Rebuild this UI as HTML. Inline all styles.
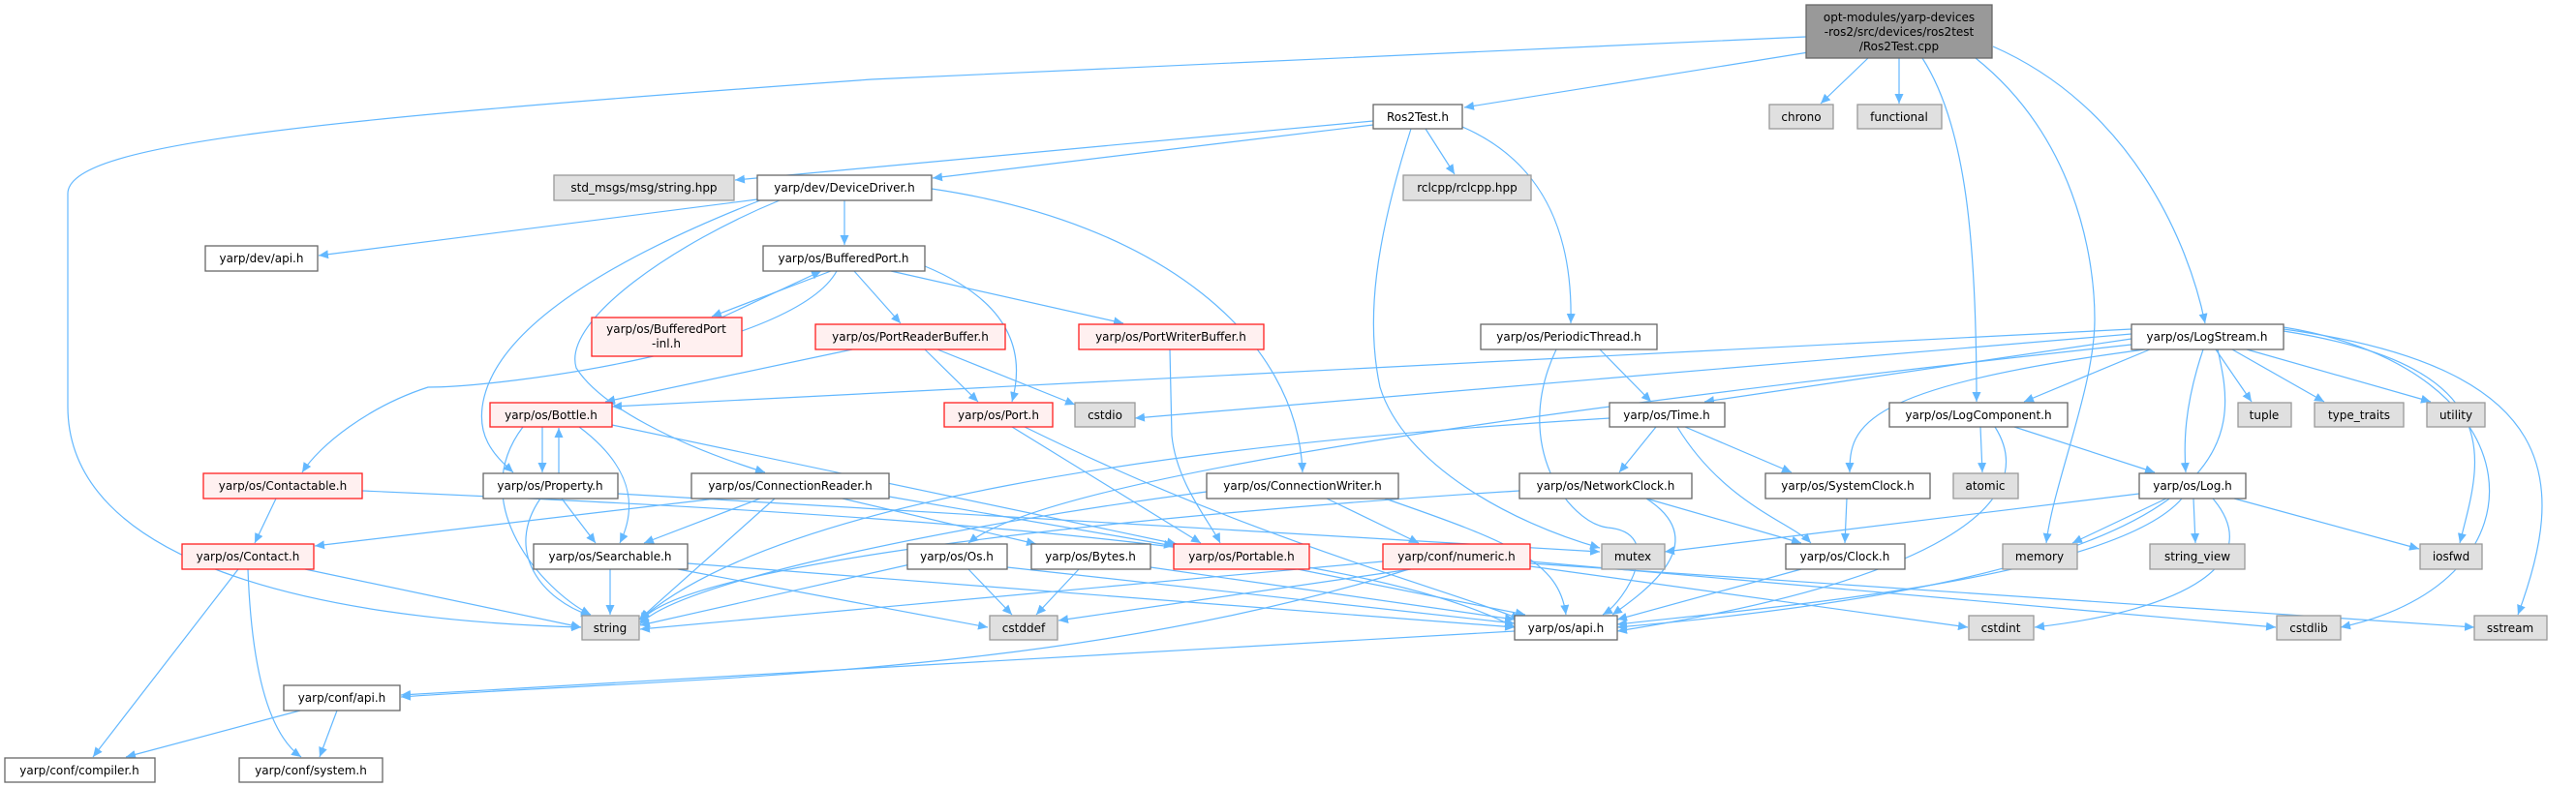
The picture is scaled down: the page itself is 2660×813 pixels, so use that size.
<!DOCTYPE html>
<html><head><meta charset="utf-8"><style>
html,body{margin:0;padding:0;background:#fff;}
svg{display:block;}
text{font-family:"DejaVu Sans","Liberation Sans",sans-serif;font-size:12px;fill:#000;}
.e{fill:none;stroke:#63b8ff;stroke-width:1.2;}
</style></head><body>
<svg width="2660" height="813" viewBox="0 0 2660 813" xmlns="http://www.w3.org/2000/svg">
<defs><marker id="a" markerUnits="userSpaceOnUse" markerWidth="11" markerHeight="9" refX="10" refY="4.5" orient="auto"><path d="M0,0 L10,4.5 L0,9 z" fill="#63b8ff"/></marker></defs>
<g class="e" marker-end="url(#a)">
<path d="M1865,38 L900,82 C300,125 70,150 70,200 L70,420 C70,580 320,640 600,648"/>
<path d="M1880,52 L1512,111"/>
<path d="M1929,60 L1880,107"/>
<path d="M1961,60 L1961,107"/>
<path d="M1985,60 C2030,130 2041,250 2041,415"/>
<path d="M2040,60 C2140,140 2163,260 2163,330 C2163,400 2120,500 2113,561"/>
<path d="M2058,48 C2200,110 2260,250 2277,334"/>
<path d="M1418,125 L759,186"/>
<path d="M1418,129 L963,184"/>
<path d="M1472,133 L1502,180"/>
<path d="M1510,131 C1600,170 1624,250 1622,334"/>
<path d="M1457,133 C1420,250 1410,330 1425,400 C1450,480 1560,540 1652,566"/>
<path d="M782,206 L329,264"/>
<path d="M872,207 L872,253"/>
<path d="M962,195 C1200,230 1340,350 1345,488"/>
<path d="M785,207 C650,260 520,330 500,410 C490,450 510,470 530,488"/>
<path d="M805,207 C700,250 580,330 595,380 C620,420 700,460 790,488"/>
<path d="M864,280 C820,360 520,400 442,400 C380,420 330,460 312,488"/>
<path d="M858,280 L735,327"/>
<path d="M745,328 L848,280"/>
<path d="M882,280 L930,334"/>
<path d="M920,280 L1160,334"/>
<path d="M955,275 C1040,310 1060,360 1045,415"/>
<path d="M955,361 L1010,415"/>
<path d="M968,361 L1110,418"/>
<path d="M880,361 L625,415"/>
<path d="M1208,361 L1210,450 C1215,500 1250,540 1260,561"/>
<path d="M1045,441 L1240,561"/>
<path d="M1058,441 C1300,560 1500,610 1570,640"/>
<path d="M560,441 L560,488"/>
<path d="M577,489 L577,442"/>
<path d="M598,441 C650,480 660,520 640,561"/>
<path d="M540,441 C480,520 560,610 610,635"/>
<path d="M632,439 L1215,562"/>
<path d="M580,515 L615,561"/>
<path d="M558,515 C520,570 560,620 610,636"/>
<path d="M638,510 L1652,570"/>
<path d="M285,515 L263,561"/>
<path d="M374,507 C900,530 1400,560 1564,648"/>
<path d="M740,515 L325,564"/>
<path d="M785,515 L665,561"/>
<path d="M800,515 L660,640"/>
<path d="M870,515 L1070,562"/>
<path d="M918,513 L1212,564"/>
<path d="M315,588 L600,648"/>
<path d="M246,588 L96,782"/>
<path d="M256,588 C260,700 280,760 311,782"/>
<path d="M630,588 L630,635"/>
<path d="M710,582 L1564,648"/>
<path d="M700,588 L1020,648"/>
<path d="M1564,652 L414,718"/>
<path d="M310,734 L130,782"/>
<path d="M348,734 L330,782"/>
<path d="M1455,588 C1100,700 700,700 414,720"/>
<path d="M1457,588 L1093,641"/>
<path d="M1580,585 L2032,648"/>
<path d="M1428,580 L661,650"/>
<path d="M1580,582 L2555,648"/>
<path d="M1580,580 L2350,648"/>
<path d="M940,583 L661,646"/>
<path d="M1000,588 L1045,635"/>
<path d="M1040,586 L1564,644"/>
<path d="M1114,588 L1070,635"/>
<path d="M1188,586 L1564,640"/>
<path d="M1340,588 L1575,635"/>
<path d="M1370,515 L1465,561"/>
<path d="M1430,515 C1560,560 1610,580 1617,635"/>
<path d="M1246,508 C1000,540 700,600 661,645"/>
<path d="M1710,441 L1672,488"/>
<path d="M1740,441 L1850,488"/>
<path d="M1732,441 C1780,520 1850,540 1870,561"/>
<path d="M1662,432 C1200,460 800,520 661,640"/>
<path d="M1700,515 L1860,561"/>
<path d="M1700,515 C1770,560 1700,610 1665,635"/>
<path d="M1569,507 C1200,530 700,580 661,643"/>
<path d="M1907,515 L1905,561"/>
<path d="M1860,588 L1670,640"/>
<path d="M2201,345 L1172,432"/>
<path d="M2201,350 L1760,415"/>
<path d="M2220,361 L2090,415"/>
<path d="M2275,361 C2255,420 2255,460 2257,488"/>
<path d="M2288,361 L2325,415"/>
<path d="M2305,361 L2400,415"/>
<path d="M2320,361 L2510,415"/>
<path d="M2358,342 C2600,380 2560,480 2540,561"/>
<path d="M2358,340 C2650,380 2650,500 2600,635"/>
<path d="M2358,338 C2620,380 2640,600 2417,648"/>
<path d="M2215,361 C1920,400 1910,440 1910,488"/>
<path d="M2201,356 C1800,400 1100,480 1000,561"/>
<path d="M2201,340 L632,420"/>
<path d="M2290,361 C2310,450 2340,590 1670,648"/>
<path d="M2045,441 L2047,488"/>
<path d="M2080,441 L2225,488"/>
<path d="M2060,441 C2110,520 2000,600 1670,652"/>
<path d="M2237,515 L2140,561"/>
<path d="M2265,515 L2267,561"/>
<path d="M2307,515 L2498,567"/>
<path d="M2285,515 C2340,580 2260,630 2101,648"/>
<path d="M2253,515 C2180,600 1800,630 1670,645"/>
<path d="M2209,510 L1719,570"/>
<path d="M1652,361 L1705,415"/>
<path d="M1607,361 C1560,460 1620,540 1660,545 C1720,550 1680,620 1655,635"/>
</g>
<g stroke-width="1.3">
<!-- main -->
<rect x="1865" y="5" width="192" height="55" fill="#999" stroke="#666"/>
<text x="1961" y="22" text-anchor="middle">opt-modules/yarp-devices</text>
<text x="1961" y="37" text-anchor="middle">-ros2/src/devices/ros2test</text>
<text x="1961" y="52" text-anchor="middle">/Ros2Test.cpp</text>
</g>
<g stroke-width="1.3" text-anchor="middle">
<!-- white nodes -->
<g fill="#fff" stroke="#666">
<rect x="1418" y="108" width="92" height="25"/>
<rect x="782" y="181" width="180" height="26"/>
<rect x="212" y="254" width="116" height="26"/>
<rect x="788" y="254" width="167" height="26"/>
<rect x="1529" y="335" width="182" height="26"/>
<rect x="2201" y="335" width="157" height="26"/>
<rect x="1662" y="416" width="119" height="25"/>
<rect x="1951" y="416" width="184" height="25"/>
<rect x="499" y="489" width="139" height="26"/>
<rect x="714" y="489" width="204" height="26"/>
<rect x="1246" y="489" width="198" height="26"/>
<rect x="1569" y="489" width="178" height="26"/>
<rect x="1823" y="489" width="170" height="26"/>
<rect x="2209" y="489" width="110" height="26"/>
<rect x="551" y="562" width="159" height="26"/>
<rect x="937" y="562" width="103" height="26"/>
<rect x="1065" y="562" width="123" height="26"/>
<rect x="1844" y="562" width="123" height="26"/>
<rect x="1564" y="636" width="106" height="25"/>
<rect x="293" y="708" width="120" height="26"/>
<rect x="5" y="783" width="155" height="25"/>
<rect x="247" y="783" width="148" height="25"/>
</g>
<!-- gray nodes -->
<g fill="#e0e0e0" stroke="#999">
<rect x="1827" y="108" width="66" height="25"/>
<rect x="1918" y="108" width="87" height="25"/>
<rect x="572" y="181" width="186" height="26"/>
<rect x="1449" y="181" width="132" height="26"/>
<rect x="1110" y="416" width="62" height="25"/>
<rect x="2311" y="416" width="55" height="25"/>
<rect x="2390" y="416" width="92" height="25"/>
<rect x="2506" y="416" width="60" height="25"/>
<rect x="2017" y="489" width="67" height="26"/>
<rect x="1654" y="562" width="65" height="26"/>
<rect x="2068" y="562" width="77" height="26"/>
<rect x="2220" y="562" width="98" height="26"/>
<rect x="2499" y="562" width="64" height="26"/>
<rect x="601" y="636" width="59" height="25"/>
<rect x="1022" y="636" width="70" height="25"/>
<rect x="2033" y="636" width="67" height="25"/>
<rect x="2351" y="636" width="66" height="25"/>
<rect x="2555" y="636" width="75" height="25"/>
</g>
<!-- red nodes -->
<g fill="#fff0f0" stroke="#ff2020">
<rect x="611" y="328" width="155" height="40"/>
<rect x="842" y="335" width="196" height="26"/>
<rect x="1114" y="335" width="191" height="26"/>
<rect x="506" y="416" width="126" height="25"/>
<rect x="975" y="416" width="112" height="25"/>
<rect x="210" y="489" width="164" height="26"/>
<rect x="188" y="562" width="136" height="26"/>
<rect x="1212" y="562" width="140" height="26"/>
<rect x="1428" y="562" width="152" height="26"/>
</g>
<text x="1464" y="125">Ros2Test.h</text>
<text x="1860" y="125">chrono</text>
<text x="1961" y="125">functional</text>
<text x="665" y="198">std_msgs/msg/string.hpp</text>
<text x="872" y="198">yarp/dev/DeviceDriver.h</text>
<text x="1515" y="198">rclcpp/rclcpp.hpp</text>
<text x="270" y="271">yarp/dev/api.h</text>
<text x="871" y="271">yarp/os/BufferedPort.h</text>
<text x="688" y="344">yarp/os/BufferedPort</text>
<text x="688" y="359">-inl.h</text>
<text x="940" y="352">yarp/os/PortReaderBuffer.h</text>
<text x="1209" y="352">yarp/os/PortWriterBuffer.h</text>
<text x="1620" y="352">yarp/os/PeriodicThread.h</text>
<text x="2279" y="352">yarp/os/LogStream.h</text>
<text x="569" y="433">yarp/os/Bottle.h</text>
<text x="1031" y="433">yarp/os/Port.h</text>
<text x="1141" y="433">cstdio</text>
<text x="1721" y="433">yarp/os/Time.h</text>
<text x="2043" y="433">yarp/os/LogComponent.h</text>
<text x="2338" y="433">tuple</text>
<text x="2436" y="433">type_traits</text>
<text x="2536" y="433">utility</text>
<text x="292" y="506">yarp/os/Contactable.h</text>
<text x="568" y="506">yarp/os/Property.h</text>
<text x="816" y="506">yarp/os/ConnectionReader.h</text>
<text x="1345" y="506">yarp/os/ConnectionWriter.h</text>
<text x="1658" y="506">yarp/os/NetworkClock.h</text>
<text x="1908" y="506">yarp/os/SystemClock.h</text>
<text x="2050" y="506">atomic</text>
<text x="2264" y="506">yarp/os/Log.h</text>
<text x="256" y="579">yarp/os/Contact.h</text>
<text x="630" y="579">yarp/os/Searchable.h</text>
<text x="988" y="579">yarp/os/Os.h</text>
<text x="1126" y="579">yarp/os/Bytes.h</text>
<text x="1282" y="579">yarp/os/Portable.h</text>
<text x="1504" y="579">yarp/conf/numeric.h</text>
<text x="1686" y="579">mutex</text>
<text x="1905" y="579">yarp/os/Clock.h</text>
<text x="2106" y="579">memory</text>
<text x="2269" y="579">string_view</text>
<text x="2531" y="579">iosfwd</text>
<text x="630" y="653">string</text>
<text x="1057" y="653">cstddef</text>
<text x="1617" y="653">yarp/os/api.h</text>
<text x="2066" y="653">cstdint</text>
<text x="2384" y="653">cstdlib</text>
<text x="2592" y="653">sstream</text>
<text x="353" y="725">yarp/conf/api.h</text>
<text x="82" y="800">yarp/conf/compiler.h</text>
<text x="321" y="800">yarp/conf/system.h</text>
</g>
</svg>
</body></html>
